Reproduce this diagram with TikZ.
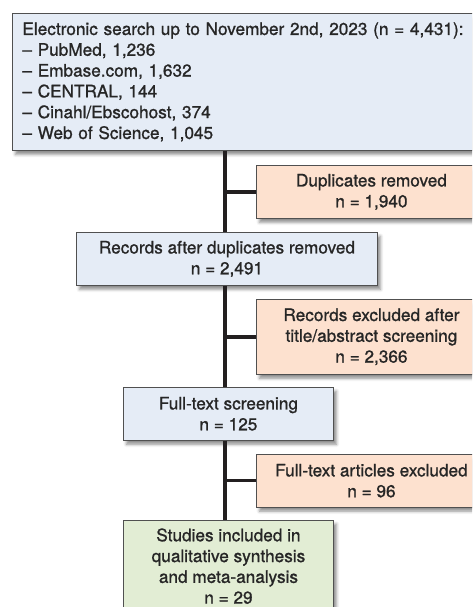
\documentclass[tikz,border=0pt]{standalone}
\usepackage{fontspec}
\setmainfont{TeX Gyre Heros}[FakeBold=1.1]
\usetikzlibrary{shadows.blur,calc}
\definecolor{searchblue}{RGB}{229,236,246}
\definecolor{exclpeach}{RGB}{253,225,207}
\definecolor{inclgreen}{RGB}{226,237,212}
\definecolor{boxline}{RGB}{80,80,80}
\definecolor{trunkline}{RGB}{35,31,32}
\tikzstyle{stage}=[draw=boxline, line width=0.9pt, anchor=north west,
  align=center, inner sep=0pt, text=black!85,
  font=\fontsize{17.2}{20.8}\selectfont,
  blur shadow={shadow xshift=3pt, shadow yshift=-4pt,
    shadow blur radius=3pt, shadow opacity=45}]
\tikzstyle{kept}=[stage, fill=searchblue]
\tikzstyle{removed}=[stage, fill=exclpeach]
\tikzstyle{included}=[stage, fill=inclgreen]
\tikzstyle{trunk}=[draw=trunkline, line width=3.5pt]
\newcommand{\stagebox}[5]{node (#1) [#2, minimum width=#3pt,
  minimum height=#4pt] {#5}}

\begin{document}
\begin{tikzpicture}[x=1pt,y=1pt]
  \useasboundingbox (0,0) rectangle (472,-607);
  \clip (0,0) rectangle (472,-607);
  \path (12,-13) node (search) [kept, align=left, inner xsep=10pt,
    text width=470pt, minimum height=137pt]
    {Electronic search up to November 2nd, 2023 (n = 4,431):\\
     -- PubMed, 1,236\\
     -- Embase.com, 1,632\\
     -- CENTRAL, 144\\
     -- Cinahl/Ebscohost, 374\\
     -- Web of Science, 1,045};
  \path (search.south west)+(244,-14) \stagebox{dup}{removed}{230}{53}{Duplicates removed\\n = 1,940};
  \path (search.south west)+(64,-81) \stagebox{recs}{kept}{301}{53}{Records after duplicates removed\\n = 2,491};
  \path (dup.south west)+(0,-80) \stagebox{abstr}{removed}{230}{75}{Records excluded after\\title/abstract screening\\n = 2,366};
  \path (recs.south west)+(47,-101) \stagebox{full}{kept}{210}{53}{Full-text screening\\n = 125};
  \path (abstr.south west)+(0,-79) \stagebox{ftex}{removed}{230}{53}{Full-text articles excluded\\n = 96};
  \path (full.south west)+(0,-79) \stagebox{incl}{included}{210}{92}{Studies included in\\qualitative synthesis\\and meta-analysis\\n = 29};

  % main flow down the left
  \coordinate (trunk) at (225,0);
  \draw [trunk] (search.south -| trunk) -- (recs.north -| trunk);
  \draw [trunk] (recs.south -| trunk) -- (full.north -| trunk);
  \draw [trunk] (full.south -| trunk) -- (incl.north -| trunk);
  % exclusions to the right
  \draw [trunk] (dup.west) -- (dup.west -| trunk);
  \draw [trunk] (abstr.west) -- (abstr.west -| trunk);
  \draw [trunk] (ftex.west) -- (ftex.west -| trunk);
\end{tikzpicture}
\end{document}
